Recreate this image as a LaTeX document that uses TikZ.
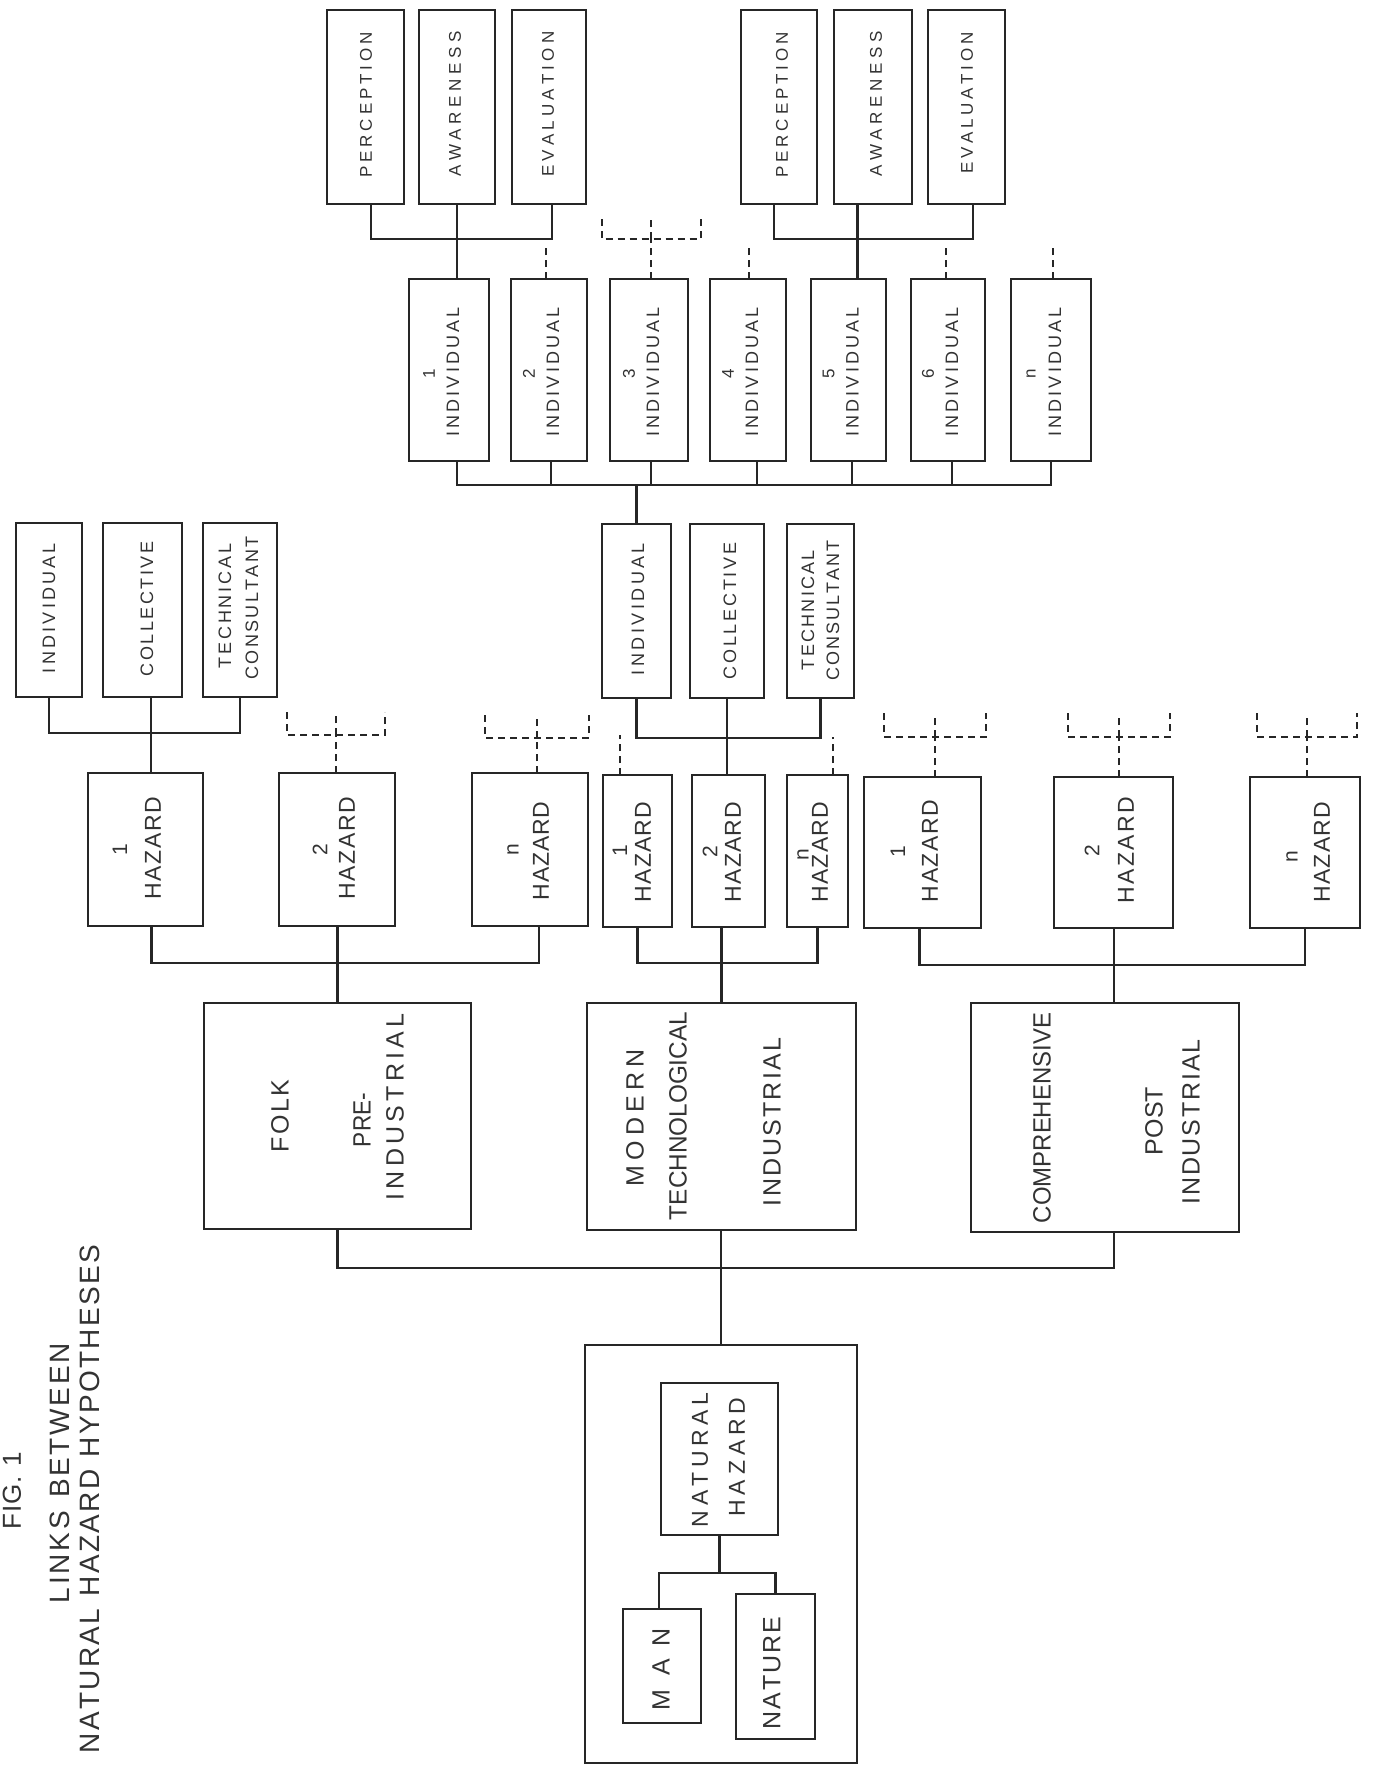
\documentclass[tikz,border=0pt]{standalone}
\usepackage{fontspec}
\setmainfont{Liberation Sans}
\usepackage{graphicx}
\usetikzlibrary{calc}
\makeatletter
\def\spr#1{\spr@b#1\relax}
\def\spr@b#1{#1\spr@c}
\def\spr@c#1{\ifx#1\relax\else\hfil#1\expandafter\spr@c\fi}
\makeatother
\newlength\fitw
\newcommand\fitt[2]{%
  \settowidth\fitw{#2}%
  \ifdim\fitw>#1pt\relax
    \pgfmathsetmacro\fitr{#1/\fitw}%
    \scalebox{\fitr}[1]{#2}%
  \else
    \makebox[#1pt][s]{\spr{#2}}%
  \fi}
\newcommand\mkbox[5]{\node[bx, minimum width={#4-#2}, minimum height={#5-#3}] (#1) at ({(#2+#4)/2},{(#3+#5)/2}) {};}
\newcommand\mktx[6]{\node[tt,#2] (#1) at (#3,#4) {\fitt{#5}{#6}};}
\newcommand\mknum[5]{\node[tt,#2] (#1) at (#3,#4) {#5};}
\newcommand\tbar[5]{%
  \draw[dsh] ([xshift=#2pt]#1.north) -- ++(0,-#3) coordinate (#1-tj);
  \draw[dsh] ([shift={(-#5,-#4)}]#1-tj) -- ++(0,#4) -- ++(2*#5,0) -- ++(0,-#4);
  \draw[dsh] (#1-tj) -- ++(0,-#4);}
\newcommand\stub[3]{\draw[dsh] ([xshift=#2pt]#1.north) -- ++(0,-#3);}
\begin{document}
\begin{tikzpicture}[x=1pt,y=-1pt,
  bx/.style={draw=black!85, line width=2.2pt, inner sep=0pt, outer sep=0pt, rectangle},
  cn/.style={draw=black!85, line width=2.2pt},
  dsh/.style={draw=black!85, line width=2pt, dash pattern=on 7pt off 5pt},
  tt/.style={rotate=90, inner sep=0pt, text=black!80},
  fA/.style={font=\fontsize{28}{32}\selectfont},
  fT/.style={font=\fontsize{26}{30}\selectfont},
  fB/.style={font=\fontsize{25}{30}\selectfont},
  fH/.style={font=\fontsize{23}{28}\selectfont},
  fHn/.style={font=\fontsize{21}{25}\selectfont},
  fR/.style={font=\fontsize{23}{27}\selectfont},
  fC/.style={font=\fontsize{18}{22}\selectfont},
  fN/.style={font=\fontsize{17}{20}\selectfont},
  fP/.style={font=\fontsize{17}{20}\selectfont}]
\fill[white] (0,0) rectangle (1373,1775);
\useasboundingbox (0,0) rectangle (1373,1775);

% ---------- title
\mktx{tfig}{fT}{12}{1491}{77}{FIG.~1}
\mktx{tlinks}{fA}{60}{1473}{260}{LINKS~BETWEEN}
\mktx{tnhh}{fA}{90}{1499}{508}{NATURAL~HAZARD~HYPOTHESES}

% ---------- boxes
\mkbox{root}{585}{1345}{857}{1763}
\mkbox{nh}{661}{1383}{778}{1535}
\mkbox{man}{623}{1609}{701}{1723}
\mkbox{nat}{736}{1594}{815}{1739}

\mkbox{folk}{204}{1003}{471}{1229}
\mkbox{modern}{587}{1003}{856}{1230}
\mkbox{comp}{971}{1003}{1239}{1232}

\mkbox{h1f}{88}{773}{203}{926}
\mkbox{h2f}{279}{773}{395}{926}
\mkbox{hnf}{472}{773}{588}{926}
\mkbox{h1m}{603}{775}{672}{927}
\mkbox{h2m}{692}{775}{765}{927}
\mkbox{hnm}{787}{775}{848}{927}
\mkbox{h1c}{864}{777}{981}{928}
\mkbox{h2c}{1054}{777}{1173}{928}
\mkbox{hnc}{1250}{777}{1360}{928}

\mkbox{indL}{16}{523}{82}{697}
\mkbox{colL}{103}{523}{182}{697}
\mkbox{tcL}{203}{523}{277}{697}
\mkbox{indM}{602}{524}{671}{698}
\mkbox{colM}{690}{524}{764}{698}
\mkbox{tcM}{787}{524}{854}{698}

\mkbox{i1}{409}{279}{489}{461}
\mkbox{i2}{511}{279}{587}{461}
\mkbox{i3}{610}{279}{688}{461}
\mkbox{i4}{710}{279}{786}{461}
\mkbox{i5}{811}{279}{886}{461}
\mkbox{i6}{911}{279}{985}{461}
\mkbox{iN}{1011}{279}{1091}{461}

\mkbox{p1}{327}{10}{404}{204}
\mkbox{a1}{419}{10}{495}{204}
\mkbox{e1}{512}{10}{586}{204}
\mkbox{p2}{741}{10}{817}{204}
\mkbox{a2}{834}{10}{912}{204}
\mkbox{e2}{928}{10}{1005}{204}

% ---------- texts
\mktx{tnat1}{fR}{700}{1460}{134}{NATURAL}
\mktx{tnat2}{fR}{737}{1457}{119}{HAZARD}
\mktx{tman}{fB}{661}{1669}{82}{MAN}
\mktx{tnature}{fB}{772}{1673}{113}{NATURE}

\mktx{tfolk}{fB}{280}{1116}{73}{FOLK}
\mktx{tpre}{fB}{362}{1120}{54}{PRE-}
\mktx{tind1}{fB}{395}{1107}{187}{INDUSTRIAL}
\mktx{tmod}{fB}{635}{1118}{137}{MODERN}
\mktx{ttech}{fB}{678}{1116}{208}{TECHNOLOGICAL}
\mktx{tind2}{fB}{772}{1122}{168}{INDUSTRIAL}
\mktx{tcomp}{fB}{1042}{1118}{210}{COMPREHENSIVE}
\mktx{tpost}{fB}{1154}{1121}{68}{POST}
\mktx{tind3}{fB}{1191}{1122}{165}{INDUSTRIAL}

\mknum{nh1f}{fHn}{120}{850}{1}
\mktx{th1f}{fH}{153}{848}{103}{HAZARD}
\mknum{nh2f}{fHn}{320}{850}{2}
\mktx{th2f}{fH}{347}{848}{103}{HAZARD}
\mknum{nhnf}{fHn}{513}{850}{n}
\mktx{thnf}{fH}{541}{851}{98}{HAZARD}
\mknum{nh1m}{fHn}{620}{851}{1}
\mktx{th1m}{fH}{643}{852}{100}{HAZARD}
\mknum{nh2m}{fHn}{710}{852}{2}
\mktx{th2m}{fH}{733}{852}{100}{HAZARD}
\mknum{nhnm}{fHn}{803}{855}{n}
\mktx{thnm}{fH}{820}{852}{101}{HAZARD}
\mknum{nh1c}{fHn}{898}{852}{1}
\mktx{th1c}{fH}{930}{851}{102}{HAZARD}
\mknum{nh2c}{fHn}{1092}{851}{2}
\mktx{th2c}{fH}{1126}{850}{106}{HAZARD}
\mknum{nhnc}{fHn}{1292}{857}{n}
\mktx{thnc}{fH}{1322}{852}{101}{HAZARD}

\mktx{tindL}{fC}{49}{608}{130}{INDIVIDUAL}
\mktx{tcolL}{fC}{147}{609}{135}{COLLECTIVE}
\mktx{ttcL1}{fC}{225}{606}{125}{TECHNICAL}
\mktx{ttcL2}{fC}{252}{608}{143}{CONSULTANT}
\mktx{tindM}{fC}{638}{609}{132}{INDIVIDUAL}
\mktx{tcolM}{fC}{730}{611}{137}{COLLECTIVE}
\mktx{ttcM1}{fC}{808}{610}{120}{TECHNICAL}
\mktx{ttcM2}{fC}{833}{610}{140}{CONSULTANT}

\foreach \nm/\c/\lab in {i1/449/1,i2/549/2,i3/649/3,i4/748/4,i5/848.5/5,i6/948/6,iN/1051/n}{
  \node[tt,fN] (n\nm) at (\c-20,374) {\lab};
  \node[tt,fC] (t\nm) at (\c+4,372) {\fitt{129}{INDIVIDUAL}};
}

\mktx{tp1}{fP}{366}{105}{145}{PERCEPTION}
\mktx{ta1}{fP}{455}{104}{145}{AWARENESS}
\mktx{te1}{fP}{548}{104}{145}{EVALUATION}
\mktx{tp2}{fP}{782}{105}{145}{PERCEPTION}
\mktx{ta2}{fP}{876}{104}{145}{AWARENESS}
\mktx{te2}{fP}{967}{103}{141}{EVALUATION}

% ---------- connectors
\coordinate (busA) at (0,1268);
\draw[cn] (root.north) -- (root.north |- modern.south);
\draw[cn] (folk.south) -- (folk.south |- busA) -- ([xshift=9pt]comp.south |- busA) -- ([xshift=9pt]comp.south);

\coordinate (busB) at (0,963);
\draw[cn] (folk.north) -- (folk.north |- h2f.south);
\draw[cn] ([xshift=6pt]h1f.south) -- ([xshift=6pt]h1f.south |- busB) -- ([xshift=9pt]hnf.south |- busB) -- ([xshift=9pt]hnf.south);

\draw[cn] (modern.north) -- (modern.north |- h2m.south);
\draw[cn] (h1m.south) -- (h1m.south |- busB) -- (hnm.south |- busB) -- (hnm.south);

\coordinate (busD) at (0,965);
\draw[cn] ([xshift=9pt]comp.north) -- ([xshift=9pt]comp.north |- h2c.south);
\draw[cn] ([xshift=-3pt]h1c.south) -- ([xshift=-3pt]h1c.south |- busD) -- (hnc.south |- busD) -- (hnc.south);

\coordinate (busE) at (0,733);
\draw[cn] ([xshift=5.5pt]h1f.north) -- ([xshift=5.5pt]h1f.north |- colL.south);
\draw[cn] (indL.south) -- (indL.south |- busE) -- (tcL.south |- busE) -- (tcL.south);

\coordinate (busF) at (0,738);
\draw[cn] (colM.south) -- (colM.south |- h2m.north);
\draw[cn] (indM.south) -- (indM.south |- busF) -- (tcM.south |- busF) -- (tcM.south);

\coordinate (busG) at (0,485);
\draw[cn] (indM.north) -- (indM.north |- busG);
\draw[cn] ([xshift=8pt]i1.south) -- ([xshift=8pt]i1.south |- busG) -- (iN.south |- busG) -- (iN.south);
\foreach \nm/\d in {i2/2,i3/2,i4/9,i5/3.5,i6/4}
  \draw[cn] ([xshift=\d pt]\nm.south) -- ([xshift=\d pt]\nm.south |- busG);

\coordinate (busH) at (0,239);
\draw[cn] (a1.south) -- (a1.south |- i1.north);
\draw[cn] ([xshift=5.5pt]p1.south) -- ([xshift=5.5pt]p1.south |- busH) -- ([xshift=3pt]e1.south |- busH) -- ([xshift=3pt]e1.south);
\draw[cn] ([xshift=9pt]i5.north) -- ([xshift=9pt]i5.north |- a2.south);
\draw[cn] ([xshift=-5pt]p2.south) -- ([xshift=-5pt]p2.south |- busH) -- ([xshift=6.5pt]e2.south |- busH) -- ([xshift=6.5pt]e2.south);

\coordinate (busJ) at (0,1573);
\draw[cn] (nh.south) -- (nh.south |- busJ);
\draw[cn] ([xshift=-3pt]man.north) -- ([xshift=-3pt]man.north |- busJ) -- (nat.north |- busJ) -- (nat.north);

% ---------- dashed placeholders
\tbar{h2f}{-1}{38}{23}{49}
\tbar{hnf}{7}{35}{23}{52}
\tbar{h1c}{12.5}{40}{24}{51}
\tbar{h2c}{5.5}{40}{24}{51}
\tbar{hnc}{2}{40}{24}{50}
\tbar{i3}{2}{40}{20}{49.5}
\stub{h1m}{-17.5}{40}
\stub{hnm}{15.5}{38}
\stub{i2}{-3}{32}
\stub{i4}{1}{32}
\stub{i6}{-2}{32}
\stub{iN}{2}{32}
\end{tikzpicture}
\end{document}
